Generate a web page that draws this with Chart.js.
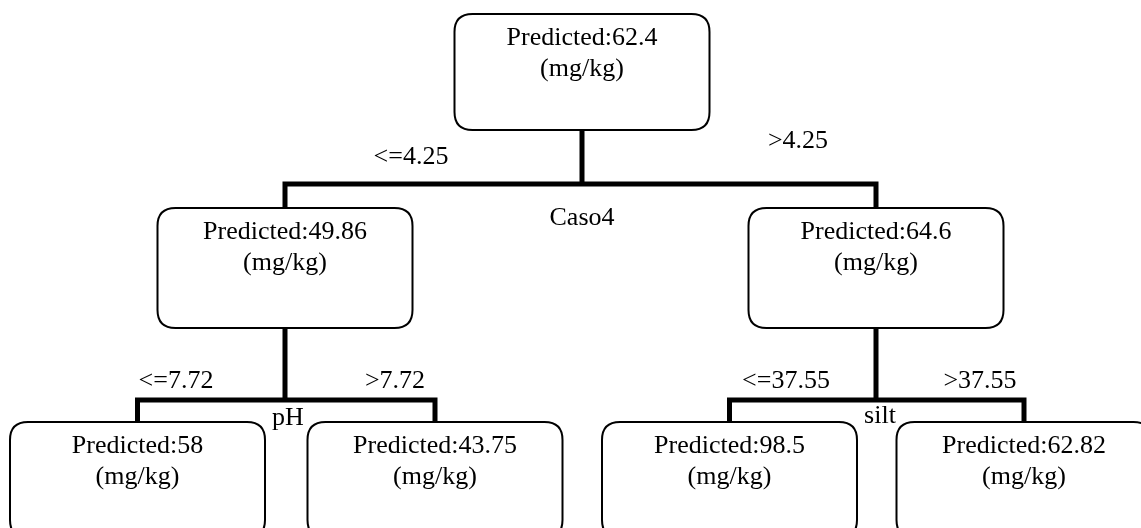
<!DOCTYPE html>
<html>
<head>
<meta charset="utf-8">
<script src="https://cdn.jsdelivr.net/npm/chart.js@4/dist/chart.umd.min.js"></script>
<style>
  html, body { margin: 0; padding: 0; background: #ffffff; }
  #tree { display: block; }
</style>
</head>
<body>
<canvas id="tree" width="1141" height="528"></canvas>
<script>
// tree values
var nodeValues = [62.4, 49.86, 64.6, 58, 43.75, 98.5, 62.82];
var unitLabel = "(mg/kg)";
var parentOf = [-1, 0, 0, 1, 1, 2, 2];
var splitNodes = [0, 1, 2];
var splitNames = ["Caso4", "pH", "silt"];
var splitLow = ["<=4.25", "<=7.72", "<=37.55"];
var splitHigh = [">4.25", ">7.72", ">37.55"];

// layout (page units, same as the chart axes)
var nodeCx = [582, 285, 876, 137.5, 435, 729.5, 1024];
var nodeLevel = [0, 1, 1, 2, 2, 2, 2];
var levelTop = [14, 208, 422];
var levelH = [116, 120, 116];
var boxW = 255;
var splitY = [184, 400, 400];
var namePos = [[582, 225], [288, 425], [880, 423]];
var lowPos = [[411, 164], [176, 388], [786, 388]];
var highPos = [[798, 148], [395, 388], [980, 388]];

var fontFamily = "'Liberation Serif', 'Times New Roman', serif";

function childrenOf(n){
    var kids = [];
    for(var i=0; i<parentOf.length; i++){
        if(parentOf[i] == n) kids.push(i);
    }
    return kids;
}

function boxBottom(n){
    return levelTop[nodeLevel[n]] + levelH[nodeLevel[n]];
}

// connector lines as line datasets
var datasets = [];
for(var s=0; s<splitNodes.length; s++){
    var p = splitNodes[s];
    var kids = childrenOf(p);
    var a = kids[0], b = kids[1];
    datasets.push({
        data: [{x: nodeCx[p], y: boxBottom(p)}, {x: nodeCx[p], y: splitY[s]}],
        borderColor: "#000", borderWidth: 5, pointRadius: 0, borderCapStyle: "butt"
    });
    datasets.push({
        data: [
            {x: nodeCx[a], y: levelTop[nodeLevel[a]]},
            {x: nodeCx[a], y: splitY[s]},
            {x: nodeCx[b], y: splitY[s]},
            {x: nodeCx[b], y: levelTop[nodeLevel[b]]}
        ],
        borderColor: "#000", borderWidth: 5, pointRadius: 0,
        borderCapStyle: "butt", borderJoinStyle: "miter"
    });
}

function roundRect(ctx, x, y, w, h, r){
    ctx.beginPath();
    ctx.moveTo(x + r, y);
    ctx.lineTo(x + w - r, y);
    ctx.quadraticCurveTo(x + w, y, x + w, y + r);
    ctx.lineTo(x + w, y + h - r);
    ctx.quadraticCurveTo(x + w, y + h, x + w - r, y + h);
    ctx.lineTo(x + r, y + h);
    ctx.quadraticCurveTo(x, y + h, x, y + h - r);
    ctx.lineTo(x, y + r);
    ctx.quadraticCurveTo(x, y, x + r, y);
    ctx.closePath();
}

var treePlugin = {
    id: "treeBoxes",
    afterDatasetsDraw: function(chart){
        var ctx = chart.ctx;
        var xs = chart.scales.x, ys = chart.scales.y;
        ctx.save();
        ctx.font = "26px " + fontFamily;
        ctx.fillStyle = "#000";
        ctx.textAlign = "center";
        ctx.textBaseline = "alphabetic";

        for(var n=0; n<nodeValues.length; n++){
            var lv = nodeLevel[n];
            var x0 = xs.getPixelForValue(nodeCx[n] - boxW / 2);
            var x1 = xs.getPixelForValue(nodeCx[n] + boxW / 2);
            var y0 = ys.getPixelForValue(levelTop[lv]);
            var y1 = ys.getPixelForValue(levelTop[lv] + levelH[lv]);
            roundRect(ctx, x0, y0, x1 - x0, y1 - y0, 18);
            ctx.fillStyle = "#fff";
            ctx.fill();
            ctx.lineWidth = 2;
            ctx.strokeStyle = "#000";
            ctx.stroke();
            ctx.fillStyle = "#000";
            var cx = xs.getPixelForValue(nodeCx[n]);
            ctx.fillText("Predicted:" + nodeValues[n], cx, ys.getPixelForValue(levelTop[lv] + 31));
            ctx.fillText(unitLabel, cx, ys.getPixelForValue(levelTop[lv] + 62));
        }

        for(var s=0; s<splitNodes.length; s++){
            ctx.fillText(splitNames[s], xs.getPixelForValue(namePos[s][0]), ys.getPixelForValue(namePos[s][1]));
            ctx.fillText(splitLow[s], xs.getPixelForValue(lowPos[s][0]), ys.getPixelForValue(lowPos[s][1]));
            ctx.fillText(splitHigh[s], xs.getPixelForValue(highPos[s][0]), ys.getPixelForValue(highPos[s][1]));
        }
        ctx.restore();
    }
};

new Chart(document.getElementById("tree"), {
    type: "line",
    data: { datasets: datasets },
    options: {
        responsive: false,
        animation: false,
        parsing: false,
        layout: { padding: 0 },
        plugins: {
            legend: { display: false },
            tooltip: { enabled: false }
        },
        scales: {
            x: { type: "linear", min: 0, max: 1141, display: false },
            y: { type: "linear", min: 0, max: 528, reverse: true, display: false }
        }
    },
    plugins: [treePlugin]
});
</script>
</body>
</html>
